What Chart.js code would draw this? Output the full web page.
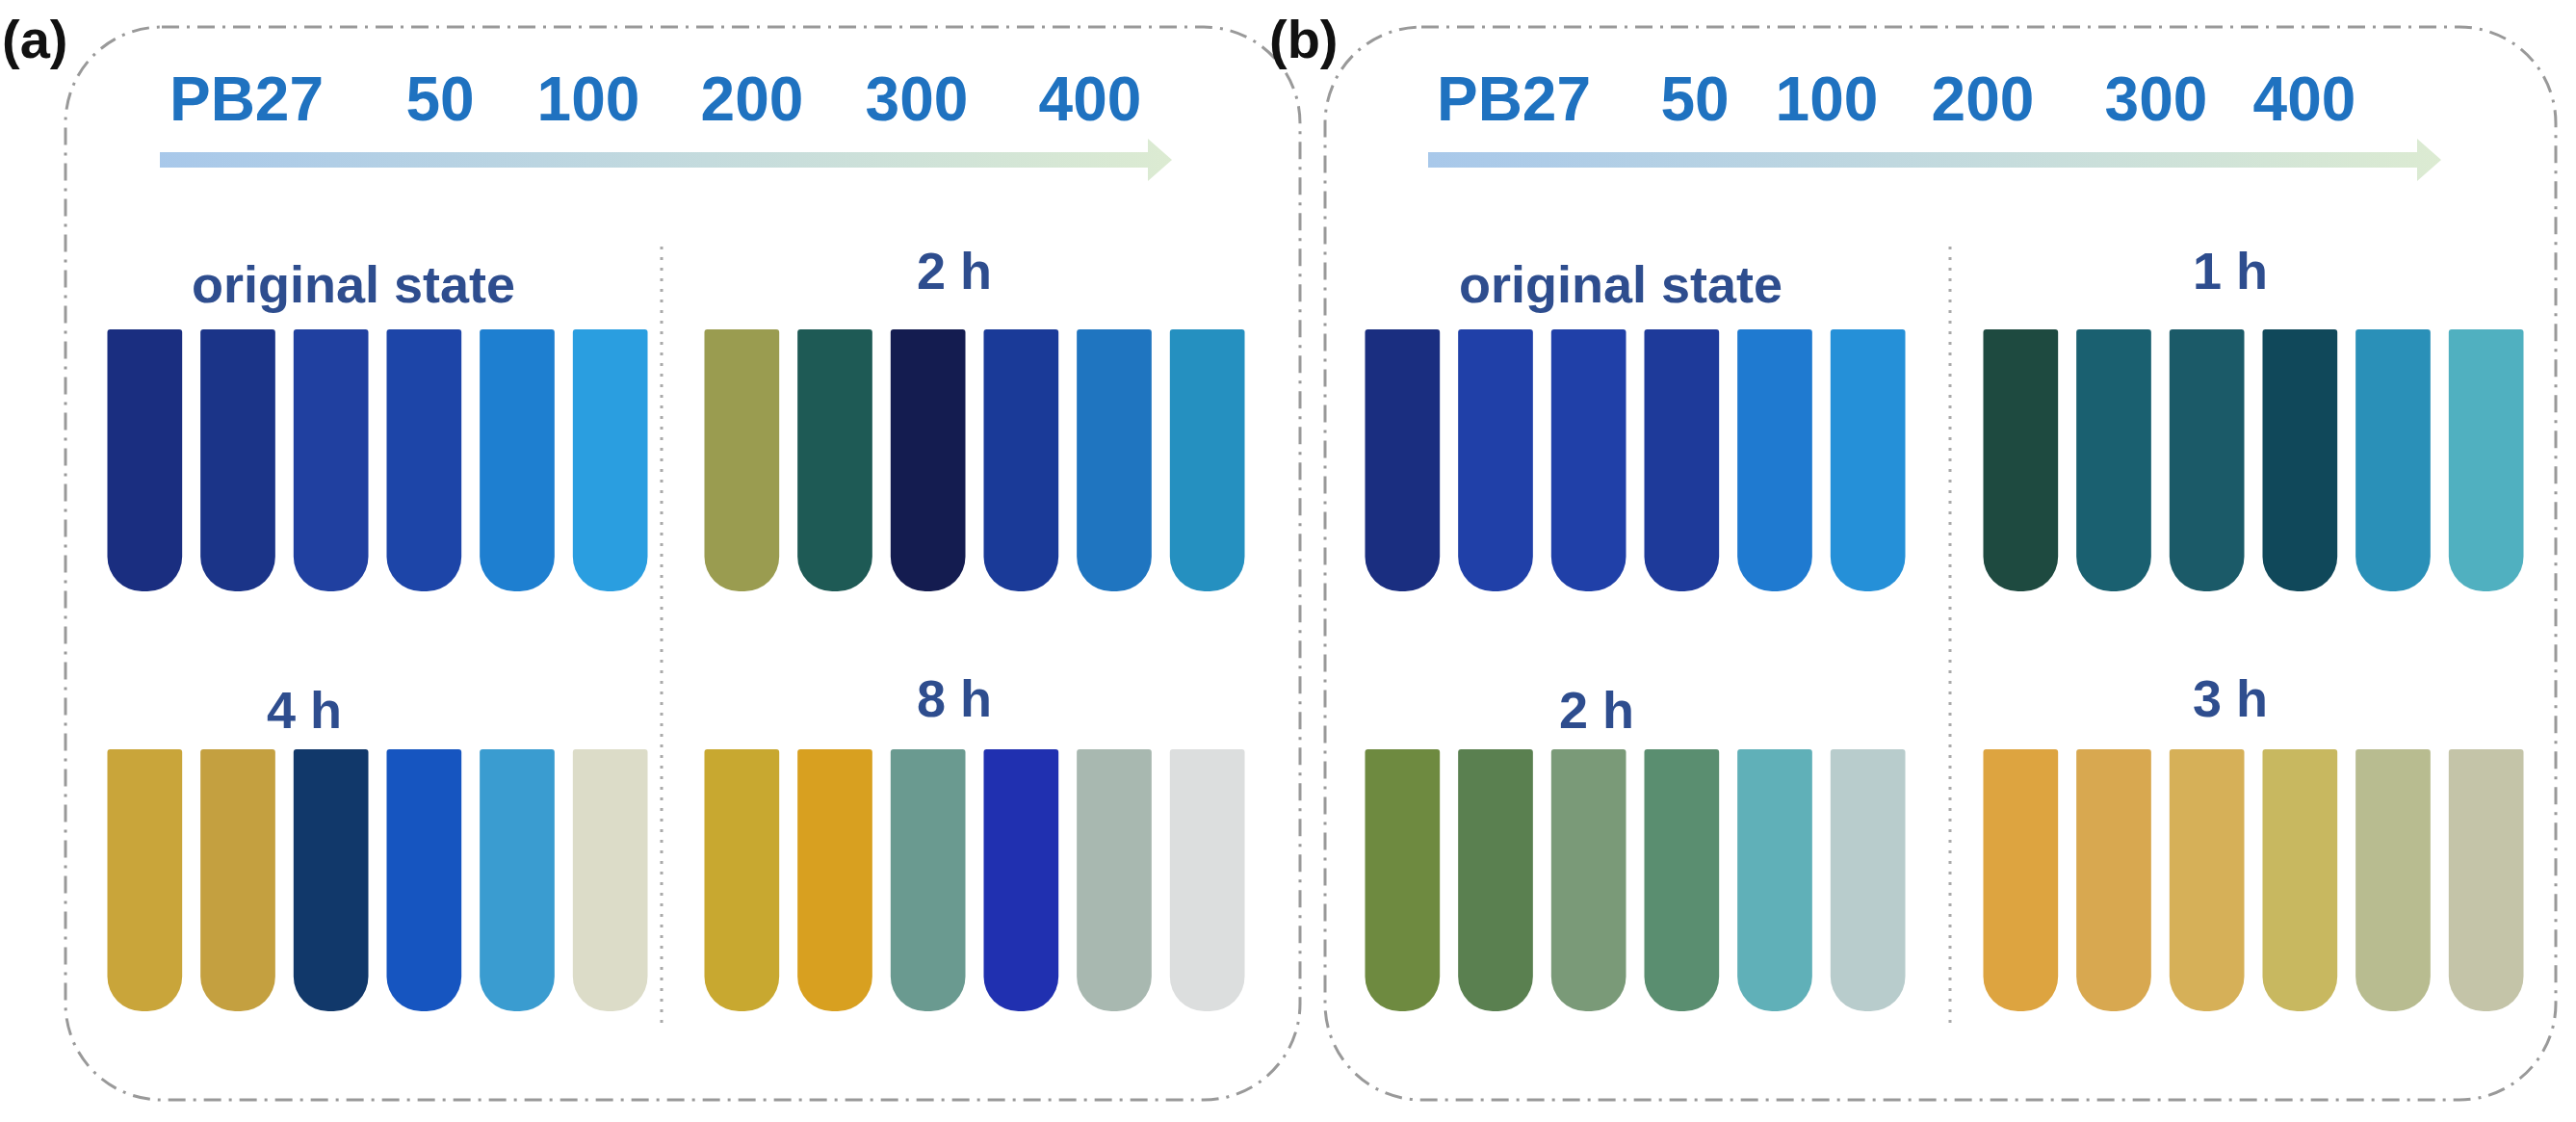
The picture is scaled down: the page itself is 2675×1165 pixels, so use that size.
<!DOCTYPE html>
<html>
<head>
<meta charset="utf-8">
<script src="https://cdn.jsdelivr.net/npm/chart.js@4"></script>
<style>
  body { margin: 0; width: 2675px; height: 1165px; background: #fff; position: relative; overflow: hidden; font-family: Arial, 'Liberation Sans', sans-serif; }
  .abs { position: absolute; }
  .tag { font-weight: bold; font-size: 56px; color: #111; }
  .conc { font-weight: bold; font-size: 64px; color: #1f72c0; transform: translateX(-50%); white-space: nowrap; }
  .title { font-weight: bold; font-size: 54px; color: #2e4d8e; transform: translateX(-50%); white-space: nowrap; }
  .group { width: 580px; height: 272px; }
</style>
</head>
<body>
<svg class="abs" style="left:0;top:0" width="2675" height="1165">
  <rect x="68" y="28" width="1282" height="1114" rx="100" fill="none" stroke="#999" stroke-width="3" stroke-dasharray="18 8 3 8"/>
  <rect x="1376" y="28" width="1278" height="1114" rx="100" fill="none" stroke="#999" stroke-width="3" stroke-dasharray="18 8 3 8"/>
  <line x1="687" y1="256" x2="687" y2="1068" stroke="#aaa" stroke-width="3" stroke-dasharray="3 8"/>
  <line x1="2025" y1="256" x2="2025" y2="1068" stroke="#aaa" stroke-width="3" stroke-dasharray="3 8"/>
  <defs>
    <linearGradient id="g" x1="0" x2="1"><stop offset="0" stop-color="#a8c8ea"/><stop offset="1" stop-color="#dcebd2"/></linearGradient>
  </defs>
  <polygon points="166,158 1192,158 1192,144 1217,166 1192,188 1192,174 166,174" fill="url(#g)"/>
  <polygon points="1483,158 2510,158 2510,144 2535,166 2510,188 2510,174 1483,174" fill="url(#g)"/>
</svg>
<div class="abs tag" style="left:2px;top:8px">(a)</div>
<div class="abs tag" style="left:1318px;top:8px">(b)</div>
<div id="labels"></div>
<div id="groups"></div>
<script>
const concLabels = ['PB27', '50', '100', '200', '300', '400']
const concXa = [256, 457, 611, 781, 952, 1132]
const concXb = [1572, 1760, 1897, 2059, 2239, 2393]

const groupTitles = ['original state', '2 h', '4 h', '8 h', 'original state', '1 h', '2 h', '3 h']
const tubeColors = [
  ['#1a2e80', '#1b3488', '#2040a0', '#1d45a8', '#1e7fd0', '#2a9ee0'],
  ['#9a9c50', '#1e5a55', '#141c50', '#1a3a98', '#1f75c0', '#2590c0'],
  ['#c9a53a', '#c4a040', '#11386a', '#1655c0', '#3a9cd0', '#dcdcc8'],
  ['#c8a830', '#d8a020', '#6a9a90', '#2030b0', '#a8b8b0', '#dcdede'],
  ['#1a2e80', '#2040a8', '#2040a8', '#1e3a9a', '#1f7ad0', '#2590d8'],
  ['#1e4a40', '#1a6070', '#1b5a68', '#10485a', '#2a90b8', '#50b0c0'],
  ['#6e8a40', '#5a8050', '#7a9a78', '#5a8e70', '#60b0b8', '#b8cccc'],
  ['#dda440', '#d8a850', '#d6b058', '#c8b860', '#b8bc90', '#c4c4a8']
]
const tubeFill = [1, 1, 1, 1, 1, 1]

const groupPos = [[102, 342], [722, 342], [102, 778], [722, 778], [1408, 342], [2050, 342], [1408, 778], [2050, 778]]
const titlePos = [[367, 296], [991, 282], [316, 738], [991, 726], [1683, 296], [2316, 282], [1658, 738], [2316, 726]]

const labels = document.getElementById('labels')
concLabels.forEach((t, i) => {
  labels.insertAdjacentHTML('beforeend', `<div class="abs conc" style="left:${concXa[i]}px;top:66px">${t}</div>`)
  labels.insertAdjacentHTML('beforeend', `<div class="abs conc" style="left:${concXb[i]}px;top:66px">${t}</div>`)
})
groupTitles.forEach((t, i) => {
  labels.insertAdjacentHTML('beforeend', `<div class="abs title" style="left:${titlePos[i][0]}px;top:${titlePos[i][1] - 32}px">${t}</div>`)
})

const groups = document.getElementById('groups')
tubeColors.forEach((colors, i) => {
  const div = document.createElement('div')
  div.className = 'abs group'
  div.style.left = groupPos[i][0] + 'px'
  div.style.top = groupPos[i][1] + 'px'
  const canvas = document.createElement('canvas')
  div.appendChild(canvas)
  groups.appendChild(div)
  new Chart(canvas, {
    type: 'bar',
    data: {
      labels: concLabels,
      datasets: [{
        data: tubeFill,
        backgroundColor: colors,
        borderSkipped: false,
        borderRadius: { topLeft: 3, topRight: 3, bottomLeft: 36, bottomRight: 36 },
        barPercentage: 0.82,
        categoryPercentage: 0.98
      }]
    },
    options: {
      responsive: true,
      maintainAspectRatio: false,
      animation: false,
      layout: { padding: 0 },
      plugins: { legend: { display: false }, tooltip: { enabled: false } },
      scales: {
        x: { display: false },
        y: { display: false, min: 0, max: 1 }
      }
    }
  })
})
</script>
</body>
</html>
